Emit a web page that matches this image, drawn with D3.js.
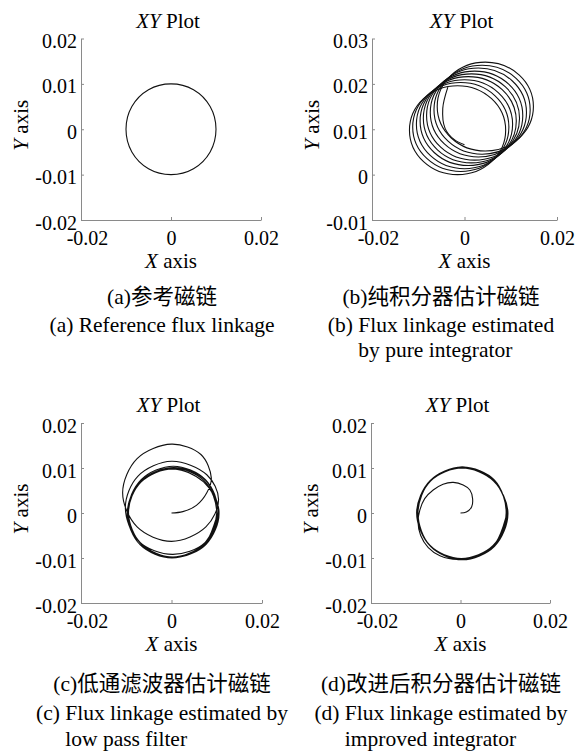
<!DOCTYPE html>
<html>
<head>
<meta charset="utf-8">
<script src="https://cdn.jsdelivr.net/npm/d3@7"></script>
<style>
  body { margin: 0; background: #fff; }
  svg { display: block; }
  text { font-family: "Liberation Serif", "Times New Roman", "Noto Sans CJK SC", serif; fill: #000; }
</style>
</head>
<body>
<svg id="chart" width="579" height="756"></svg>
<script>
// ---- axis ticks ----
const xTicks = [-0.02, 0, 0.02];
const yTicksStd = [-0.02, -0.01, 0, 0.01, 0.02];
const yTicksPure = [-0.01, 0, 0.01, 0.02, 0.03];

// ---- (a) reference flux linkage: one circle, radius 0.01 ----
const refFlux = [
  [0.0100, 0.0000], [0.0087, 0.0050], [0.0050, 0.0087], [0.0000, 0.0100],
  [-0.0050, 0.0087], [-0.0087, 0.0050], [-0.0100, 0.0000], [-0.0087, -0.0050],
  [-0.0050, -0.0087], [0.0000, -0.0100], [0.0050, -0.0087], [0.0087, -0.0050]
];

// ---- (b) pure integrator: drifting loops (centre x, centre y) ----
const pureLoopCx = [-0.0015, -0.0008, 0.0000, 0.0008, 0.0015, 0.0022, 0.0030, 0.0038, 0.0045];
const pureLoopCy = [0.0098, 0.0105, 0.0111, 0.0118, 0.0124, 0.0130, 0.0137, 0.0143, 0.0150];
const pureLoopRx = 0.0104;
const pureLoopRy = 0.0098;
const pureTail = [
  [-0.0036, 0.0193], [-0.0047, 0.0146], [-0.0042, 0.0102], [-0.0022, 0.0077], [0.0000, 0.0066]
];

// ---- (c) low pass filter trajectory ----
const lpfFlux = [
  [0.0000, 0.0000], [0.0025, 0.0003], [0.0055, 0.0017], [0.0078, 0.0045], [0.0088, 0.0078],
  [0.0065, 0.0130], [0.0000, 0.0153], [-0.0076, 0.0121], [-0.0108, 0.0045], [-0.0076, -0.0031],
  [0.0000, -0.0063], [0.0076, -0.0031], [0.0104, 0.0030],
  [0.0078, 0.0085], [0.0000, 0.0115], [-0.0074, 0.0082], [-0.0102, 0.0012], [-0.0072, -0.0063],
  [0.0002, -0.0092], [0.0074, -0.0066], [0.0103, 0.0004],
  [0.0075, 0.0074], [0.0004, 0.0104], [-0.0067, 0.0074], [-0.0097, 0.0003], [-0.0067, -0.0068],
  [0.0004, -0.0098], [0.0075, -0.0068], [0.0105, 0.0003],
  [0.0071, 0.0069], [0.0002, 0.0098], [-0.0067, 0.0069], [-0.0096, 0.0000], [-0.0067, -0.0069],
  [0.0002, -0.0098], [0.0071, -0.0069], [0.0100, 0.0000],
  [0.0076, 0.0072], [0.0005, 0.0101], [-0.0066, 0.0072], [-0.0095, 0.0001], [-0.0066, -0.0070],
  [0.0005, -0.0099], [0.0076, -0.0070], [0.0105, 0.0001],
  [0.0071, 0.0069], [0.0001, 0.0098], [-0.0069, 0.0069], [-0.0098, -0.0001], [-0.0069, -0.0071],
  [0.0001, -0.0100], [0.0071, -0.0071], [0.0100, -0.0001],
  [0.0073, 0.0071], [0.0003, 0.0100], [-0.0067, 0.0071], [-0.0096, 0.0001], [-0.0067, -0.0069],
  [0.0003, -0.0099], [0.0073, -0.0069], [0.0102, 0.0001]
];

// ---- (d) improved integrator trajectory ----
const improvedFlux = [
  [0.0000, 0.0000], [0.0013, 0.0002], [0.0025, 0.0014], [0.0027, 0.0032], [0.0021, 0.0051],
  [0.0006, 0.0062], [-0.0016, 0.0068], [-0.0039, 0.0064], [-0.0061, 0.0051], [-0.0080, 0.0032],
  [-0.0091, 0.0006], [-0.0095, -0.0020], [-0.0089, -0.0050], [-0.0072, -0.0077], [-0.0046, -0.0095],
  [0.0000, -0.0103], [0.0075, -0.0073], [0.0105, -0.0001], [0.0075, 0.0071], [0.0004, 0.0100],
  [-0.0067, 0.0071], [-0.0096, 0.0000], [-0.0068, -0.0073], [0.0003, -0.0102], [0.0074, -0.0073],
  [0.0104, -0.0001], [0.0074, 0.0072], [0.0003, 0.0102], [-0.0068, 0.0072], [-0.0098, 0.0001],
  [-0.0069, -0.0072], [0.0002, -0.0101], [0.0073, -0.0072], [0.0102, 0.0000], [0.0076, 0.0073],
  [0.0005, 0.0102], [-0.0066, 0.0073], [-0.0095, 0.0000], [-0.0067, -0.0074], [0.0004, -0.0104],
  [0.0076, -0.0074], [0.0106, 0.0000], [0.0074, 0.0071], [0.0003, 0.0100], [-0.0068, 0.0071],
  [-0.0097, 0.0000], [-0.0068, -0.0072], [0.0003, -0.0102], [0.0074, -0.0072], [0.0104, 0.0000]
];

// ---- captions ----
const captionsA = ["(a)参考磁链", "(a) Reference flux linkage"];
const captionsB = ["(b)纯积分器估计磁链", "(b) Flux linkage estimated", "by pure integrator"];
const captionsC = ["(c)低通滤波器估计磁链", "(c) Flux linkage estimated by", "low pass filter"];
const captionsD = ["(d)改进后积分器估计磁链", "(d) Flux linkage estimated by", "improved integrator"];

const svg = d3.select("#chart");
const TICK_FONT = 20;
const LABEL_FONT = 21;
const CAPTION_FONT = 21.5;
const axisColor = "#8a8a8a";
const fmt = d => String(d);

function drawPanel(box, yDomain, yTicks) {
  const x = d3.scaleLinear().domain([-0.02, 0.02]).range([box.left, box.right]);
  const y = d3.scaleLinear().domain(yDomain).range([box.bottom, box.top]);
  const g = svg.append("g");

  const gx = g.append("g")
    .attr("transform", `translate(0,${box.bottom})`)
    .call(d3.axisBottom(x).tickValues(xTicks).tickFormat(fmt)
      .tickSizeInner(-3).tickSizeOuter(0).tickPadding(11));
  const gy = g.append("g")
    .attr("transform", `translate(${box.left},0)`)
    .call(d3.axisLeft(y).tickValues(yTicks).tickFormat(fmt)
      .tickSizeInner(-3).tickSizeOuter(0).tickPadding(4));
  [gx, gy].forEach(a => {
    a.attr("font-size", TICK_FONT).attr("font-family", null);
    a.select(".domain").attr("stroke", axisColor);
    a.selectAll(".tick line").attr("stroke", axisColor);
  });
  gy.selectAll(".tick text").attr("dy", "0.45em");
  // the leftmost x label sits just right of the corner, clear of the y labels
  gx.selectAll(".tick text").filter(d => d === xTicks[0]).attr("dx", 6);

  const cx = (box.left + box.right) / 2;
  const title = g.append("text")
    .attr("x", cx - 3).attr("y", box.top - 11)
    .attr("text-anchor", "middle").attr("font-size", LABEL_FONT);
  title.append("tspan").attr("font-style", "italic").text("XY");
  title.append("tspan").text(" Plot");

  const xl = g.append("text")
    .attr("x", cx).attr("y", box.bottom + 48)
    .attr("text-anchor", "middle").attr("font-size", LABEL_FONT);
  xl.append("tspan").attr("font-style", "italic").text("X");
  xl.append("tspan").text(" axis");

  const cy = (box.top + box.bottom) / 2;
  const yl = g.append("text")
    .attr("transform", `translate(${box.left - 53},${cy - 4}) rotate(-90)`)
    .attr("text-anchor", "middle").attr("font-size", LABEL_FONT);
  yl.append("tspan").attr("font-style", "italic").text("Y");
  yl.append("tspan").text(" axis");

  return { g, x, y };
}

function drawCurve(p, pts, closed) {
  const line = d3.line()
    .x(d => p.x(d[0])).y(d => p.y(d[1]))
    .curve(closed ? d3.curveCatmullRomClosed : d3.curveCatmullRom);
  p.g.append("path")
    .attr("d", line(pts))
    .attr("fill", "none").attr("stroke", "#111").attr("stroke-width", 1.1);
}

function drawCaption(lines, cx, baselines) {
  const l1 = svg.append("text").attr("x", cx).attr("y", baselines[0])
    .attr("text-anchor", "middle").attr("font-size", CAPTION_FONT).text(lines[0]);
  const l2 = svg.append("text").attr("x", cx).attr("y", baselines[1])
    .attr("text-anchor", "middle").attr("font-size", CAPTION_FONT).text(lines[1]);
  if (lines.length > 2) {
    const n = l2.node();
    const start = cx - n.getComputedTextLength() / 2;
    const indent = n.getSubStringLength(0, 4);
    svg.append("text").attr("x", start + indent).attr("y", baselines[2])
      .attr("font-size", CAPTION_FONT).text(lines[2]);
  }
}

// (a)
const pA = drawPanel({ left: 81, right: 261, top: 38.5, bottom: 220 }, [-0.02, 0.02], yTicksStd);
drawCurve(pA, refFlux, true);

// (b)
const pB = drawPanel({ left: 372, right: 557, top: 38.5, bottom: 220 }, [-0.01, 0.03], yTicksPure);
pB.g.selectAll("ellipse.loop")
  .data(d3.range(pureLoopCx.length))
  .join("ellipse")
  .attr("class", "loop")
  .attr("cx", i => pB.x(pureLoopCx[i]))
  .attr("cy", i => pB.y(pureLoopCy[i]))
  .attr("rx", pB.x(pureLoopRx) - pB.x(0))
  .attr("ry", pB.y(0) - pB.y(pureLoopRy))
  .attr("fill", "none").attr("stroke", "#111").attr("stroke-width", 1.1);
drawCurve(pB, pureTail, false);

// (c)
const pC = drawPanel({ left: 81, right: 262, top: 423, bottom: 603 }, [-0.02, 0.02], yTicksStd);
drawCurve(pC, lpfFlux, false);

// (d)
const pD = drawPanel({ left: 371, right: 550, top: 423, bottom: 603 }, [-0.02, 0.02], yTicksStd);
drawCurve(pD, improvedFlux, false);

// captions
drawCaption(captionsA, 162, [304, 332]);
drawCaption(captionsB, 441, [304, 332, 357]);
drawCaption(captionsC, 162, [691, 720, 746]);
drawCaption(captionsD, 441, [691, 720, 746]);
</script>
</body>
</html>
